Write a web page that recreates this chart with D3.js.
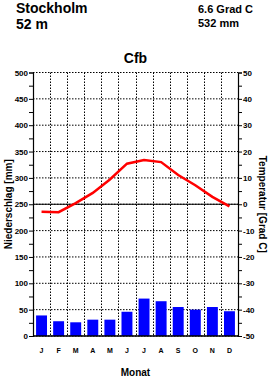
<!DOCTYPE html>
<html>
<head>
<meta charset="utf-8">
<script src="https://cdn.jsdelivr.net/npm/d3@7"></script>
<style>
  body { margin: 0; background: #fff; }
  text { font-family: "Liberation Sans", Arial, sans-serif; font-weight: bold; }
</style>
</head>
<body>
<svg id="chart"></svg>
<script>
// climate data, Stockholm
const months = ["J", "F", "M", "A", "M", "J", "J", "A", "S", "O", "N", "D"];
const precip = [39, 28, 26, 31, 31, 46, 71, 66, 55, 50, 55, 47];
const temp = [-2.8, -3.0, 0.4, 4.3, 9.4, 15.4, 16.8, 16.0, 11.1, 7.2, 2.8, -0.8];
const precipTicks = d3.range(0, 501, 50);
const tempTicks = d3.range(-50, 51, 10);

const width = 270;
const height = 378;
const margin = { left: 33, right: 32, top: 72.5, bottom: 42 };

const svg = d3.select("#chart").attr("width", width).attr("height", height);

const idx = d3.range(12);
const x = d3
  .scaleBand()
  .domain(idx)
  .range([margin.left, width - margin.right])
  .paddingInner(0.36)
  .paddingOuter(0.18);
const xEdge = d3
  .scaleLinear()
  .domain([0, 12])
  .range([margin.left, width - margin.right]);
const yP = d3
  .scaleLinear()
  .domain([0, 500])
  .range([height - margin.bottom, margin.top]);
const yT = d3
  .scaleLinear()
  .domain([-50, 50])
  .range([height - margin.bottom, margin.top]);

// header text
svg.append("text").attr("x", 16).attr("y", 13).style("font-size", "14px").text("Stockholm");
svg.append("text").attr("x", 16).attr("y", 29).style("font-size", "14px").text("52 m");
svg.append("text").attr("x", 198).attr("y", 13).style("font-size", "11px").text("6.6 Grad C");
svg.append("text").attr("x", 198).attr("y", 27).style("font-size", "11px").text("532 mm");
svg
  .append("text")
  .attr("x", (margin.left + width - margin.right) / 2)
  .attr("y", 63)
  .attr("text-anchor", "middle")
  .style("font-size", "14px")
  .text("Cfb");

// dotted grid
svg
  .append("g")
  .selectAll("line")
  .data(precipTicks)
  .enter()
  .append("line")
  .attr("x1", margin.left)
  .attr("x2", width - margin.right)
  .attr("y1", (d) => yP(d))
  .attr("y2", (d) => yP(d))
  .attr("stroke", "#000")
  .attr("stroke-dasharray", "1.5,1.5");

svg
  .append("g")
  .selectAll("line")
  .data(d3.range(1, 12))
  .enter()
  .append("line")
  .attr("x1", (d) => Math.round(xEdge(d)) + 0.5)
  .attr("x2", (d) => Math.round(xEdge(d)) + 0.5)
  .attr("y1", margin.top)
  .attr("y2", height - margin.bottom)
  .attr("stroke", "#000")
  .attr("stroke-dasharray", "1.5,1.5");

// bars
svg
  .append("g")
  .selectAll("rect")
  .data(precip)
  .enter()
  .append("rect")
  .attr("x", (d, i) => x(i))
  .attr("y", (d) => yP(d))
  .attr("width", x.bandwidth())
  .attr("height", (d) => yP(0) - yP(d))
  .attr("fill", "#0000ff");

// solid zero lines
svg
  .append("line")
  .attr("x1", margin.left)
  .attr("x2", width - margin.right)
  .attr("y1", yT(0))
  .attr("y2", yT(0))
  .attr("stroke", "#000");
svg
  .append("line")
  .attr("x1", margin.left)
  .attr("x2", width - margin.right)
  .attr("y1", yP(0))
  .attr("y2", yP(0))
  .attr("stroke", "#000")
  .attr("stroke-width", 1.5);

// temperature line
const line = d3
  .line()
  .x((d, i) => x(i) + x.bandwidth() / 2)
  .y((d) => yT(d));
svg
  .append("path")
  .datum(temp)
  .attr("d", line)
  .attr("fill", "none")
  .attr("stroke", "#ff0000")
  .attr("stroke-width", 2.5);

// axes
const leftAxis = d3
  .axisLeft(yP)
  .tickValues(d3.range(0, 501, 25))
  .tickSize(4)
  .tickFormat((d) => (d % 50 === 0 ? d : ""));
const gl = svg
  .append("g")
  .attr("transform", `translate(${margin.left},0)`)
  .call(leftAxis);

const rightAxis = d3
  .axisRight(yT)
  .tickValues(d3.range(-50, 51, 5))
  .tickSize(4)
  .tickFormat((d) => (d % 10 === 0 ? d : ""));
const gr = svg
  .append("g")
  .attr("transform", `translate(${width - margin.right},0)`)
  .call(rightAxis);

[gl, gr].forEach((g) => {
  g.select(".domain").attr("stroke-width", 1.2);
  g.selectAll("text")
    .style("font-size", "8px")
    .style("font-family", "'Liberation Sans', Arial, sans-serif")
    .style("font-weight", "bold");
});
gl.selectAll(".tick text").attr("x", -5);
gr.selectAll(".tick text").attr("x", 5);

// month labels
svg
  .append("g")
  .selectAll("text")
  .data(months)
  .enter()
  .append("text")
  .attr("x", (d, i) => x(i) + x.bandwidth() / 2)
  .attr("y", 353)
  .attr("text-anchor", "middle")
  .style("font-size", "7px")
  .text((d) => d);

svg
  .append("text")
  .attr("x", (margin.left + width - margin.right) / 2)
  .attr("y", 376)
  .attr("text-anchor", "middle")
  .style("font-size", "10px")
  .text("Monat");

// axis titles
svg
  .append("text")
  .attr("transform", `translate(12,${yP(250)}) rotate(-90)`)
  .attr("text-anchor", "middle")
  .style("font-size", "10px")
  .text("Niederschlag [mm]");
svg
  .append("text")
  .attr("transform", `translate(259,${yP(250)}) rotate(90)`)
  .attr("text-anchor", "middle")
  .style("font-size", "10px")
  .text("Temperatur [Grad C]");
</script>
</body>
</html>
